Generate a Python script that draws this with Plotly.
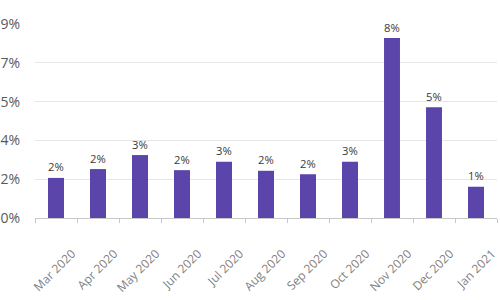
import plotly.graph_objects as go

months = ["Mar 2020", "Apr 2020", "May 2020", "Jun 2020", "Jul 2020", "Aug 2020",
          "Sep 2020", "Oct 2020", "Nov 2020", "Dec 2020", "Jan 2021"]
values = [1.86, 2.27, 2.92, 2.22, 2.61, 2.19, 2.03, 2.61, 8.35, 5.14, 1.45]
bar_labels = ["2%", "2%", "3%", "2%", "3%", "2%", "2%", "3%", "8%", "5%", "1%"]
y_tickvals = [0, 1.8, 3.6, 5.4, 7.2, 9.0]
y_ticktext = ["0%", "2%", "4%", "5%", "7%", "9%"]

fig = go.Figure(go.Bar(
    x=months, y=values, text=bar_labels, textposition="outside",
    textfont=dict(size=13, color="#3a3a3a"),
    marker=dict(color="#5b45aa", line=dict(width=0)),
    cliponaxis=False,
))
fig.update_layout(
    width=500, height=300,
    margin=dict(l=35, r=3, t=24, b=82),
    paper_bgcolor="white", plot_bgcolor="white",
    bargap=0.62, showlegend=False,
    font=dict(family="Open Sans", color="#595959"),
)
fig.update_xaxes(
    automargin=False,
    tickangle=-45, tickfont=dict(size=12, color="#7f7f7f"),
    showline=True, linecolor="#c8c8c8", linewidth=1,
    ticks="outside", tickson="boundaries", ticklen=4, tickcolor="#c8c8c8",
    showgrid=False, ticklabelstandoff=23, ticklabelshift=16,
)
fig.update_yaxes(
    automargin=False,
    range=[0, 9], tickvals=y_tickvals, ticktext=y_ticktext,
    tickfont=dict(size=14, color="#595959"),
    showgrid=True, gridcolor="#e6e6e6", gridwidth=1,
    zeroline=False, ticks="", ticklabelstandoff=14,
)
fig.write_html("out.html")
